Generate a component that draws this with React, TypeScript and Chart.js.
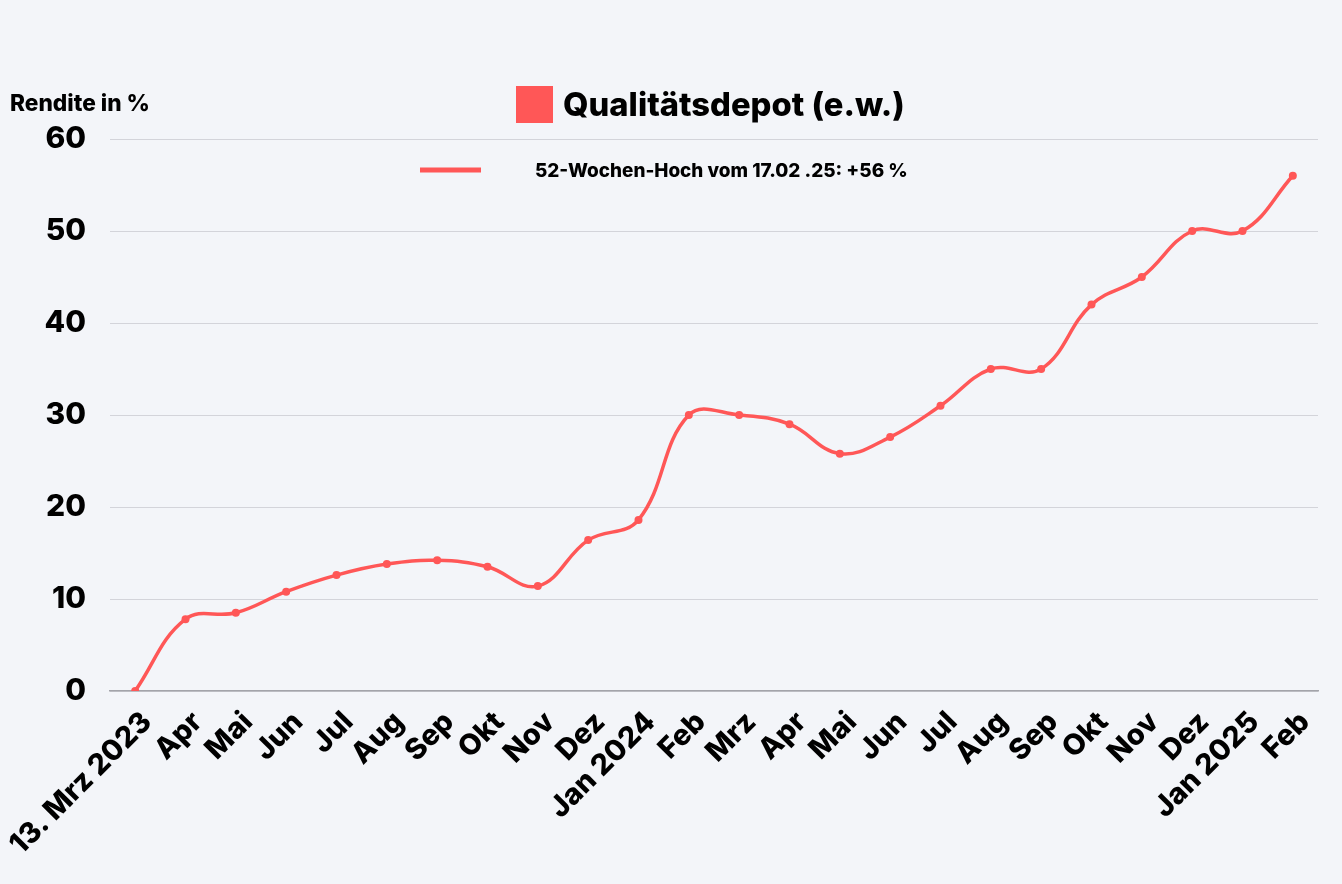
import React, { useEffect, useRef } from "react";
import { Chart, registerables } from "chart.js";

Chart.register(...registerables);

const categories = [
  "13. Mrz 2023", "Apr", "Mai", "Jun", "Jul", "Aug", "Sep", "Okt", "Nov", "Dez",
  "Jan 2024", "Feb", "Mrz", "Apr", "Mai", "Jun", "Jul", "Aug", "Sep", "Okt", "Nov", "Dez",
  "Jan 2025", "Feb",
];
const rendite = [
  0, 7.8, 8.5, 10.8, 12.6, 13.8, 14.2, 13.5, 11.4, 16.4,
  18.6, 30, 30, 29, 25.8, 27.6, 31, 35, 35, 42, 45, 50,
  50, 56,
];
const yTicks = [0, 10, 20, 30, 40, 50, 60];
const seriesLabel = "Qualitätsdepot (e.w.)";
const noteLabel = "52-Wochen-Hoch vom 17.02 .25: +56 %";
const axisTitle = "Rendite in %";

const RED = "#ff5757";
const BG = "#f3f5f9";
const FONT = "Inter";
const W = "800";

function fitSize(ctx: CanvasRenderingContext2D, text: string, target: number, weight: string) {
  ctx.font = `${weight} 20px ${FONT}`;
  const w = ctx.measureText(text).width;
  return (20 * target) / w;
}

const overlayPlugin = {
  id: "overlay",
  beforeDraw(chart: any) {
    const ctx = chart.ctx as CanvasRenderingContext2D;
    ctx.save();
    ctx.fillStyle = BG;
    ctx.fillRect(0, 0, chart.width, chart.height);
    ctx.restore();
  },
  afterDraw(chart: any) {
    const ctx = chart.ctx as CanvasRenderingContext2D;
    ctx.save();
    ctx.fillStyle = "#000";
    ctx.textBaseline = "alphabetic";
    ctx.textAlign = "left";

    // axis title
    let s = fitSize(ctx, axisTitle, 140, W);
    ctx.font = `${W} ${s}px ${FONT}`;
    ctx.fillText(axisTitle, 10, 111);

    // legend square + series label
    ctx.fillStyle = RED;
    ctx.fillRect(516, 86, 37, 37);
    ctx.fillStyle = "#000";
    s = fitSize(ctx, seriesLabel, 342, W);
    ctx.font = `${W} ${s}px ${FONT}`;
    ctx.fillText(seriesLabel, 563, 116);

    // line swatch + note
    ctx.strokeStyle = RED;
    ctx.lineWidth = 5;
    ctx.beginPath();
    ctx.moveTo(420, 170);
    ctx.lineTo(481, 170);
    ctx.stroke();
    s = fitSize(ctx, noteLabel, 373, W);
    ctx.font = `${W} ${s}px ${FONT}`;
    ctx.fillText(noteLabel, 535, 177);
    ctx.restore();
  },
};

export default function App() {
  const ref = useRef<HTMLCanvasElement | null>(null);

  useEffect(() => {
    document.body.style.margin = "0";
    document.body.style.background = BG;
    const canvas = ref.current;
    if (!canvas) return;
    const chart = new Chart(canvas, {
      type: "line",
      data: {
        labels: categories,
        datasets: [
          {
            label: seriesLabel,
            data: rendite,
            borderColor: RED,
            backgroundColor: RED,
            borderWidth: 3.5,
            pointRadius: 4,
            pointBackgroundColor: RED,
            pointBorderWidth: 0,
            tension: 0.4,
            fill: false,
          },
        ],
      },
      options: {
        responsive: false,
        animation: false,
        layout: { padding: { top: 139, right: 24, left: 0, bottom: 0 } },
        plugins: {
          legend: { display: false },
          title: { display: false },
          tooltip: { enabled: false },
        },
        scales: {
          x: {
            offset: true,
            grid: { display: false, drawTicks: false },
            border: { display: true, color: "#a3a4aa", width: 1.5 },
            ticks: {
              color: "#000",
              font: { family: FONT, size: 29, weight: W },
              minRotation: 45,
              maxRotation: 45,
              autoSkip: false,
              padding: 14,
              labelOffset: 12,
            },
            afterFit: (sc: any) => {
              sc.height = 193;
              sc.paddingLeft = 0;
              sc.paddingRight = 0;
            },
          },
          y: {
            min: 0,
            max: 60,
            grid: { color: "#d3d4da", lineWidth: 1, drawTicks: false },
            border: { display: false },
            ticks: {
              color: "#000",
              font: { family: FONT, size: 30, weight: W },
              padding: 24,
            },
            afterBuildTicks: (sc: any) => {
              sc.ticks = yTicks.map((v) => ({ value: v }));
            },
            afterFit: (sc: any) => {
              sc.width = 110;
            },
          },
        },
      },
      plugins: [overlayPlugin],
    });
    return () => chart.destroy();
  }, []);

  return (
    <div style={{ width: 1342, height: 884, background: BG }}>
      <canvas ref={ref} width={1342} height={884} style={{ display: "block" }} />
    </div>
  );
}
